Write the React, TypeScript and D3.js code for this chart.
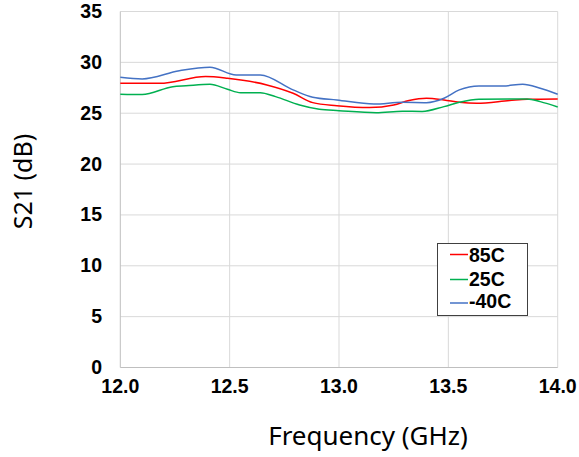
import React from "react";
import * as d3 from "d3";

const xTicks = [12.0, 12.5, 13.0, 13.5, 14.0];
const yTicks = [0, 5, 10, 15, 20, 25, 30, 35];

const seriesNames = ["85C", "25C", "-40C"];
const seriesColors = ["#ff0000", "#00b050", "#4472c4"];

const freq85 = [12.0, 12.18, 12.39, 12.49, 12.67, 12.79, 12.88, 12.99, 13.14, 13.25, 13.32, 13.40, 13.48, 13.55, 13.63, 13.78, 13.86, 14.0];
const s21_85 = [27.94, 27.94, 28.6, 28.43, 27.78, 26.96, 26.04, 25.74, 25.55, 25.8, 26.24, 26.47, 26.3, 26.07, 25.97, 26.24, 26.37, 26.4];

const freq25 = [12.0, 12.1, 12.24, 12.30, 12.41, 12.49, 12.55, 12.64, 12.71, 12.82, 12.91, 13.0, 13.17, 13.29, 13.38, 13.48, 13.55, 13.64, 13.86, 13.92, 14.0];
const s21_25 = [26.86, 26.83, 27.61, 27.7, 27.85, 27.35, 27.02, 27.02, 26.63, 25.81, 25.39, 25.25, 25.05, 25.2, 25.17, 25.65, 26.07, 26.37, 26.4, 26.14, 25.61];

const freqM40 = [12.0, 12.1, 12.27, 12.41, 12.53, 12.64, 12.79, 12.88, 12.99, 13.16, 13.29, 13.40, 13.48, 13.55, 13.64, 13.75, 13.84, 13.92, 14.0];
const s21_M40 = [28.53, 28.37, 29.18, 29.52, 28.76, 28.76, 27.29, 26.57, 26.3, 25.9, 26.07, 26.04, 26.47, 27.29, 27.68, 27.68, 27.85, 27.45, 26.86];

const seriesX = [freq85, freq25, freqM40];
const seriesY = [s21_85, s21_25, s21_M40];

export default function App() {
  const W = 579, H = 457;
  const left = 120.3, right = 557.7, top = 11.5, bottom = 367.5;
  const x = d3.scaleLinear().domain([12, 14]).range([left, right]);
  const y = d3.scaleLinear().domain([0, 35]).range([bottom, top]);
  const line = d3.line<[number, number]>().x(d => x(d[0])).y(d => y(d[1])).curve(d3.curveMonotoneX);
  const tickFont = "'Liberation Sans', Arial, sans-serif";
  return (
    <svg width={W} height={H} style={{ position: "absolute", left: 0, top: 0 }}>
      <rect width={W} height={H} fill="#fff" />
      {yTicks.slice(1).map(t => (
        <line key={"gy" + t} x1={left} x2={right} y1={y(t)} y2={y(t)} stroke="#d9d9d9" strokeWidth={1} />
      ))}
      {xTicks.slice(1).map(t => (
        <line key={"gx" + t} x1={x(t)} x2={x(t)} y1={top} y2={bottom} stroke="#d9d9d9" strokeWidth={1} />
      ))}
      <line x1={left} x2={left} y1={top} y2={bottom} stroke="#bfbfbf" strokeWidth={1} />
      <line x1={left} x2={right} y1={bottom} y2={bottom} stroke="#bfbfbf" strokeWidth={1} />
      {seriesX.map((xs, i) => (
        <path key={"s" + i} d={line(xs.map((f, j) => [f, seriesY[i][j]]) as [number, number][]) || ""}
          fill="none" stroke={seriesColors[i]} strokeWidth={1.5} />
      ))}
      {yTicks.map(t => (
        <text key={"ty" + t} x={102} y={y(t) + 6.5} textAnchor="end" fontFamily={tickFont} fontWeight="bold" fontSize={19.5} fill="#000">{t}</text>
      ))}
      {xTicks.map(t => (
        <text key={"tx" + t} x={x(t)} y={393.3} textAnchor="middle" fontFamily={tickFont} fontWeight="bold" fontSize={19.5} fill="#000">{t.toFixed(1)}</text>
      ))}
      <text x={368} y={445} textAnchor="middle" fontFamily="'Noto Sans', sans-serif" fontSize={26} fill="#000">Frequency (GHz)</text>
      <text transform={`translate(32,181.5) rotate(-90)`} textAnchor="middle" fontFamily="'Noto Sans', sans-serif" fontSize={25} fill="#000">S21 (dB)</text>
      <rect x={437.5} y={243.5} width={90} height={72} fill="#fff" stroke="#404040" strokeWidth={1} />
      {seriesNames.map((n, i) => {
        const cy = [254.5, 279.5, 303][i];
        const by = [261.7, 286, 307.7][i];
        return (
          <g key={"lg" + i}>
            <line x1={450} x2={468} y1={cy} y2={cy} stroke={seriesColors[i]} strokeWidth={1.5} />
            <text x={469} y={by} fontFamily={tickFont} fontWeight="bold" fontSize={19.5} fill="#000">{n}</text>
          </g>
        );
      })}
    </svg>
  );
}
